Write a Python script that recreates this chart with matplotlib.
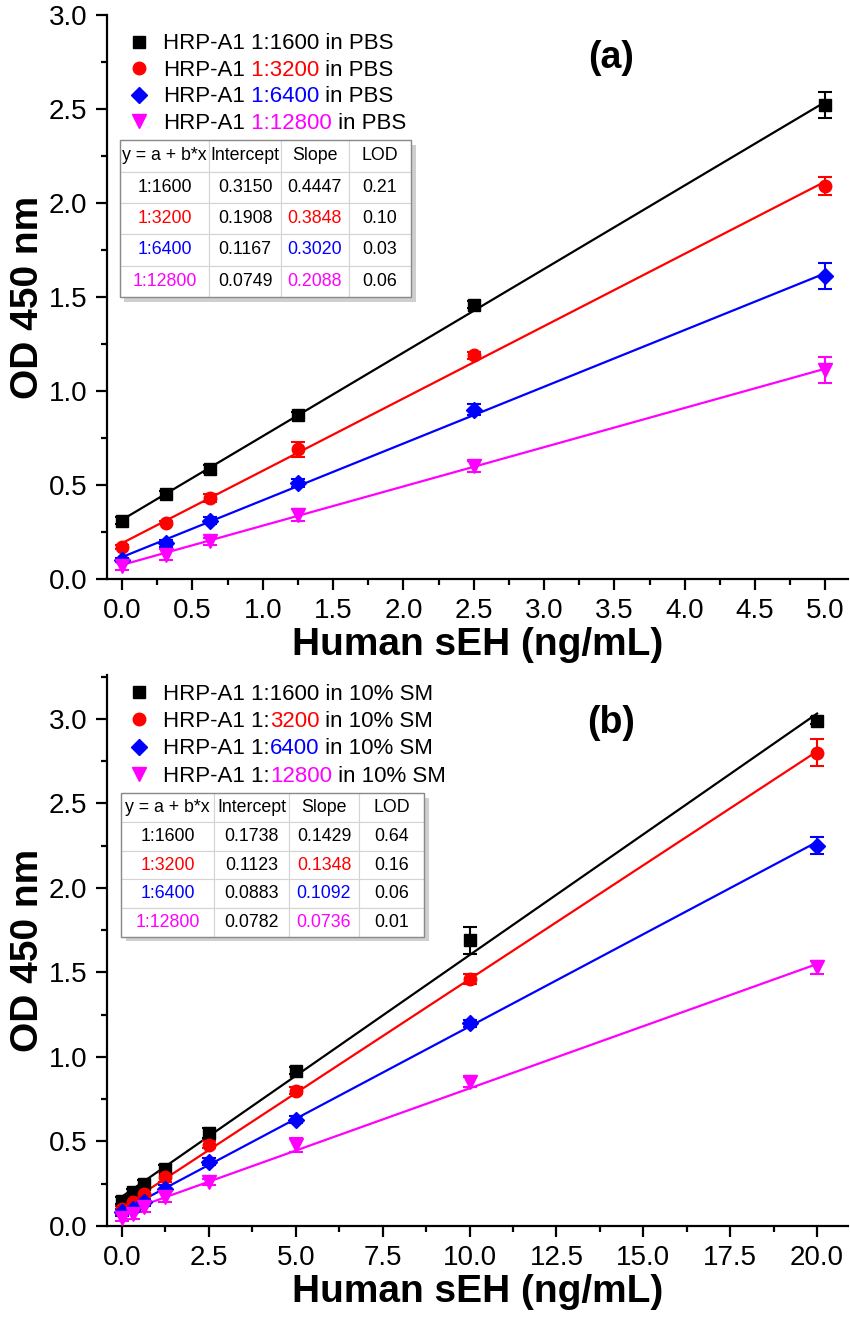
import matplotlib
matplotlib.use("Agg")
import matplotlib.pyplot as plt
from matplotlib.lines import Line2D
from matplotlib.patches import Rectangle
from matplotlib.ticker import MultipleLocator, FormatStrFormatter

plt.rcParams['font.family'] = ['Liberation Sans', 'DejaVu Sans']

# ---- data, panel (a): HRP-A1 in PBS ----
x_a = [0, 0.3125, 0.625, 1.25, 2.5, 5.0]
y_a_1600 = [0.31, 0.45, 0.585, 0.87, 1.46, 2.52]
y_a_3200 = [0.17, 0.30, 0.43, 0.69, 1.19, 2.09]
y_a_6400 = [0.10, 0.19, 0.31, 0.51, 0.90, 1.61]
y_a_12800 = [0.07, 0.13, 0.20, 0.34, 0.60, 1.11]
e_a_1600 = [0.02, 0.02, 0.02, 0.02, 0.02, 0.07]
e_a_3200 = [0.01, 0.01, 0.02, 0.04, 0.02, 0.05]
e_a_6400 = [0.01, 0.02, 0.02, 0.02, 0.03, 0.07]
e_a_12800 = [0.02, 0.03, 0.02, 0.03, 0.03, 0.07]
fit_a = {'1:1600': (0.3150, 0.4447), '1:3200': (0.1908, 0.3848),
         '1:6400': (0.1167, 0.3020), '1:12800': (0.0749, 0.2088)}
lod_a = ['0.21', '0.10', '0.03', '0.06']

# ---- data, panel (b): HRP-A1 in 10% SM ----
x_b = [0, 0.3125, 0.625, 1.25, 2.5, 5, 10, 20]
y_b_1600 = [0.15, 0.20, 0.25, 0.34, 0.55, 0.92, 1.69, 2.99]
y_b_3200 = [0.10, 0.14, 0.19, 0.29, 0.48, 0.80, 1.46, 2.80]
y_b_6400 = [0.08, 0.10, 0.14, 0.22, 0.38, 0.63, 1.20, 2.25]
y_b_12800 = [0.05, 0.07, 0.11, 0.17, 0.26, 0.48, 0.85, 1.53]
e_b_1600 = [0.02, 0.02, 0.02, 0.02, 0.03, 0.02, 0.08, 0.02]
e_b_3200 = [0.02, 0.02, 0.03, 0.03, 0.02, 0.02, 0.03, 0.08]
e_b_6400 = [0.02, 0.02, 0.02, 0.02, 0.02, 0.02, 0.02, 0.05]
e_b_12800 = [0.02, 0.03, 0.03, 0.03, 0.02, 0.04, 0.03, 0.04]
fit_b = {'1:1600': (0.1738, 0.1429), '1:3200': (0.1123, 0.1348),
         '1:6400': (0.0883, 0.1092), '1:12800': (0.0782, 0.0736)}
lod_b = ['0.64', '0.16', '0.06', '0.01']

dilutions = ['1:1600', '1:3200', '1:6400', '1:12800']
colors = ['black', 'red', 'blue', 'magenta']
markers = ['s', 'o', 'D', 'v']
msizes = [8, 9, 8, 10]

# legend text pieces (text, color)
legend_a = [[('HRP-A1 1:1600 in PBS', 'black')],
            [('HRP-A1', 'black'), (' 1:3200', 'red'), (' in PBS', 'black')],
            [('HRP-A1', 'black'), (' 1:6400', 'blue'), (' in PBS', 'black')],
            [('HRP-A1', 'black'), (' 1:12800', 'magenta'), (' in PBS', 'black')]]
legend_b = [[('HRP-A1 1:1600 in 10% SM', 'black')],
            [('HRP-A1 1:', 'black'), ('3200', 'red'), (' in 10% SM', 'black')],
            [('HRP-A1 1:', 'black'), ('6400', 'blue'), (' in 10% SM', 'black')],
            [('HRP-A1 1:', 'black'), ('12800', 'magenta'), (' in 10% SM', 'black')]]

fig = plt.figure(figsize=(8.5, 13.19), dpi=100)
W, H = 850, 1319
ax1 = fig.add_axes([107 / W, 1 - 579 / H, 741 / W, 564 / H])
ax2 = fig.add_axes([107 / W, 1 - 1226 / H, 741 / W, 551 / H])


def panel(ax, x, ys, es, fits, lods, leg, letter, xlim, ylim, xmaj, tbox, leg_y, leg_sp):
    for i, name in enumerate(dilutions):
        a, b = fits[name]
        ax.plot([x[0], x[-1]], [a + b * x[0], a + b * x[-1]], color=colors[i], lw=1.6, zorder=2)
        ax.errorbar(x, ys[i], yerr=es[i], fmt=markers[i], color=colors[i], ms=msizes[i],
                    capsize=5, elinewidth=1.5, capthick=1.5, zorder=3)
    ax.set_xlim(*xlim)
    ax.set_ylim(*ylim)
    for s in ['top', 'right']:
        ax.spines[s].set_visible(False)
    for s in ['left', 'bottom']:
        ax.spines[s].set_linewidth(1.6)
    ax.xaxis.set_major_locator(MultipleLocator(xmaj))
    ax.xaxis.set_minor_locator(MultipleLocator(xmaj / 2))
    ax.yaxis.set_major_locator(MultipleLocator(0.5))
    ax.yaxis.set_minor_locator(MultipleLocator(0.25))
    ax.xaxis.set_major_formatter(FormatStrFormatter('%.1f'))
    ax.yaxis.set_major_formatter(FormatStrFormatter('%.1f'))
    ax.tick_params(which='major', direction='out', length=8, width=1.6, labelsize=20, pad=6)
    ax.tick_params(which='minor', direction='out', length=4, width=1.6)
    ax.set_xlabel('Human sEH (ng/mL)', fontsize=28, fontweight='bold', labelpad=2)
    ax.set_ylabel('OD 450 nm', fontsize=28, fontweight='bold', labelpad=2)
    ax.text(0.68, tbox[4], letter, transform=ax.transAxes, fontsize=27,
            fontweight='bold', ha='center', va='center')

    # legend with multicolour labels
    handles = [Line2D([], [], ls='none', marker=markers[i], color=colors[i], ms=msizes[i])
               for i in range(4)]
    lg = ax.legend(handles, [p[0][0] for p in leg], loc='upper left',
                   bbox_to_anchor=(0.007, leg_y), frameon=False, fontsize=16,
                   handlelength=1.0, handletextpad=0.6, labelspacing=leg_sp,
                   borderaxespad=0.3)
    for t, pieces in zip(lg.get_texts(), leg):
        prev = t
        for txt, col in pieces[1:]:
            prev = ax.annotate(txt, xy=(1, 0), xycoords=prev, ha='left', va='bottom',
                               fontsize=16, color=col, zorder=10)

    # fit table
    rows = [['y = a + b*x', 'Intercept', 'Slope', 'LOD']]
    for i, name in enumerate(dilutions):
        a, b = fits[name]
        rows.append([name, '%.4f' % a, '%.4f' % b, lods[i]])
    x0, y0, w, h = tbox[:4]
    ax.add_patch(Rectangle((x0 + 0.006, y0 - 0.008), w, h, transform=ax.transAxes,
                           facecolor='#cfcfcf', edgecolor='none', zorder=4))
    tb = ax.table(cellText=rows, colWidths=[0.306, 0.248, 0.231, 0.215],
                  cellLoc='center', bbox=[x0, y0, w, h], zorder=5)
    tb.auto_set_font_size(False)
    for (r, c), cell in tb.get_celld().items():
        cell.set_edgecolor('#d4d4d4')
        cell.set_linewidth(0.8)
        cell.set_facecolor('white')
        txt = cell.get_text()
        txt.set_fontsize(12.8)
        if r >= 1 and c in (0, 2):
            txt.set_color(colors[r - 1])
    ax.add_patch(Rectangle((x0, y0), w, h, transform=ax.transAxes, facecolor='none',
                           edgecolor='#8a8a8a', lw=1.0, zorder=6))


panel(ax1, x_a, [y_a_1600, y_a_3200, y_a_6400, y_a_12800],
      [e_a_1600, e_a_3200, e_a_6400, e_a_12800], fit_a, lod_a, legend_a, '(a)',
      (-0.107, 5.16), (0, 3.0), 0.5, (0.0175, 0.50, 0.393, 0.278, 0.924), 0.995, 0.25)
panel(ax2, x_b, [y_b_1600, y_b_3200, y_b_6400, y_b_12800],
      [e_b_1600, e_b_3200, e_b_6400, e_b_12800], fit_b, lod_b, legend_b, '(b)',
      (-0.43, 20.89), (0, 3.26), 2.5, (0.019, 0.5245, 0.409, 0.261, 0.913), 1.012, 0.28)

fig.savefig('out.png', dpi=100)
